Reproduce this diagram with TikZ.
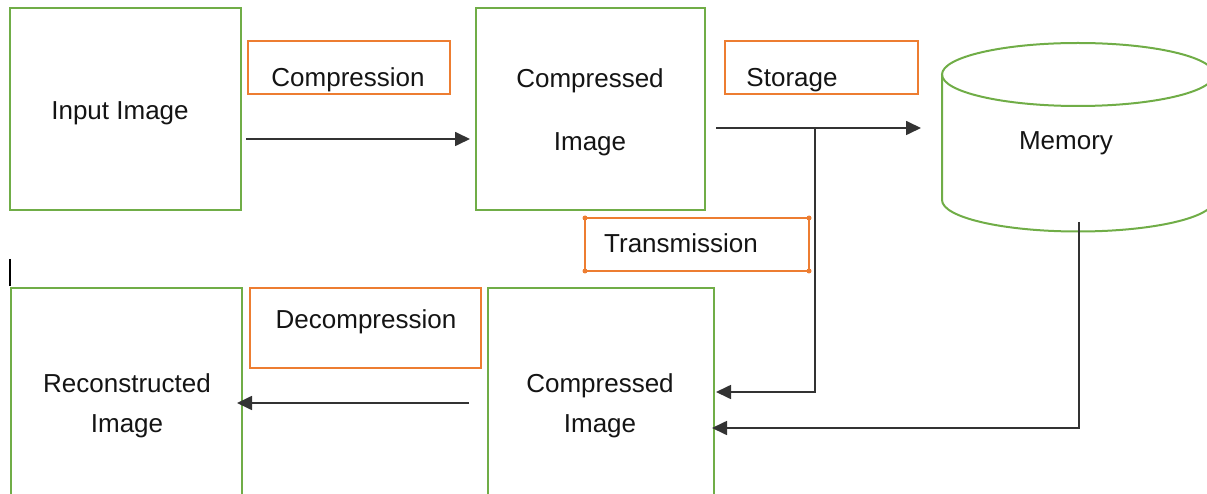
\documentclass[tikz,border=0pt]{standalone}
\usepackage{fontspec}
\setmainfont{Liberation Sans}
\usetikzlibrary{arrows.meta}
\definecolor{boxgreen}{HTML}{70AD47}
\definecolor{boxorange}{HTML}{ED7D31}
\definecolor{linegray}{HTML}{333333}
\begin{document}
\begin{tikzpicture}[x=1pt,y=-1pt,
  gbox/.style={draw=boxgreen,line width=2pt,inner sep=0pt,outer sep=0pt},
  obox/.style={draw=boxorange,line width=2pt,inner sep=0pt,outer sep=0pt},
  txt/.style={font=\fontsize{26}{30}\selectfont,text=black!92,inner sep=0pt,align=center},
  conn/.style={draw=linegray,line width=1.7pt,-{Triangle[length=15pt,width=14pt]}},
  plainline/.style={draw=linegray,line width=1.7pt}]
\useasboundingbox (0,0) rectangle (1207,494);
\clip (0,0) rectangle (1207,494);
% boxes
\node[gbox,minimum width=231pt,minimum height=202pt] (inp) at (125.5,109) {};
\node[gbox,minimum width=229pt,minimum height=202pt] (cimg) at (590.5,109) {};
\node[gbox,minimum width=231pt,minimum height=232pt] (recon) at (126.5,404) {};
\node[gbox,minimum width=226pt,minimum height=232pt] (cimgb) at (601,404) {};
\node[obox,minimum width=202pt,minimum height=53pt] (lcomp) at (349,67.5) {};
\node[obox,minimum width=193pt,minimum height=53pt] (lstor) at (821.5,67.5) {};
\node[obox,minimum width=224pt,minimum height=53pt] (ltrans) at (697,244.5) {};
\node[obox,minimum width=231pt,minimum height=80pt] (ldecomp) at (365.5,328) {};
\foreach \c in {north west,north east,south west,south east}
  \fill[boxorange] (ltrans.\c) circle (2.5pt);
% memory cylinder
\draw[boxgreen,line width=2pt] (1078,74.5) ellipse [x radius=136pt,y radius=31.5pt];
\draw[boxgreen,line width=2pt] (942,74.5) -- (942,200)
  arc[start angle=180,end angle=360,x radius=136pt,y radius=31.5pt] -- (1214,74.5);
% texts
\node[txt] (tinp) at (120,113) {Input Image};
\node[txt] (tcomp) at (348,80) {Compression};
\node[txt,font=\fontsize{26}{63}\selectfont] (tcimg) at (590,112) {Compressed\\Image};
\node[txt] (tstor) at (792,80) {Storage};
\node[txt] (tmem) at (1066,143) {Memory};
\node[txt] (ttrans) at (681,243) {Transmission};
\node[txt] (tdecomp) at (366,322) {Decompression};
\node[txt,font=\fontsize{26}{40}\selectfont] (trecon) at (127,406) {Reconstructed\\Image};
\node[txt,font=\fontsize{26}{40}\selectfont] (tcimgb) at (600,406) {Compressed\\Image};
% connectors
\coordinate (br) at (815,128);
\coordinate (memout) at (1079,222);
\draw[conn] ([xshift=5pt]inp.east |- 0,139) -- ([xshift=-6pt]cimg.west |- 0,139);
\draw[conn] ([xshift=11pt]cimg.east |- 0,128) -- ([xshift=3pt]lstor.east |- 0,128);
\draw[conn] (br) |- ([xshift=2pt]cimgb.east |- 0,392);
\draw[conn] (memout) |- ([xshift=-2pt]cimgb.east |- 0,428);
\draw[conn] ([xshift=-19pt]cimgb.west |- 0,403) -- ([xshift=-5pt]recon.east |- 0,403);
% stray cursor tick
\draw[black,line width=1.5pt] (10,259) -- (10,286);
\end{tikzpicture}
\end{document}
